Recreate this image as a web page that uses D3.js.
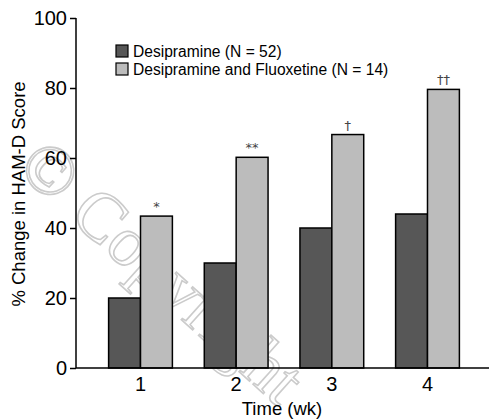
<!DOCTYPE html>
<html>
<head>
<meta charset="utf-8">
<script src="https://cdn.jsdelivr.net/npm/d3@7"></script>
<style>
  body { margin: 0; background: #fff; }
  svg text { font-family: "Liberation Sans", Arial, sans-serif; }
</style>
</head>
<body>
<div id="output"></div>
<script>
var weeks = ["1", "2", "3", "4"];
var seriesNames = ["Desipramine (N = 52)", "Desipramine and Fluoxetine (N = 14)"];
var desipramine = [20, 30, 40, 44];
var combined = [43.4, 60.2, 66.7, 79.6];
var marks = ["*", "**", "\u2020", "\u2020\u2020"];
var yTicks = [0, 20, 40, 60, 80, 100];

var w = 489, h = 419;
var colors = ["#575757", "#bcbcbc"];

var svg = d3.select("#output").append("svg")
    .attr("width", w)
    .attr("height", h);

// watermark
svg.append("text")
    .attr("transform", "translate(15,170) rotate(42)")
    .attr("font-size", 70)
    .attr("fill", "none")
    .attr("stroke", "#cbcbcb")
    .attr("stroke-width", 1.6)
    .style("font-family", "'Liberation Serif', serif")
    .text("\u00a9 Copyright");

var x = d3.scaleBand()
    .domain(weeks)
    .range([78, 490])
    .paddingInner(1 / 3)
    .paddingOuter(0.32);

var x1 = d3.scaleBand()
    .domain([0, 1])
    .range([0, x.bandwidth()]);

var y = d3.scaleLinear()
    .domain([0, 100])
    .range([368, 18]);

var groups = svg.selectAll(".group")
    .data(weeks)
    .enter()
    .append("g")
    .attr("class", "group")
    .attr("transform", function (d) { return "translate(" + x(d) + ",0)"; });

groups.selectAll("rect")
    .data(function (d, i) { return [desipramine[i], combined[i]]; })
    .enter()
    .append("rect")
    .attr("x", function (d, j) { return x1(j); })
    .attr("width", x1.bandwidth())
    .attr("y", function (d) { return y(d); })
    .attr("height", function (d) { return y(0) - y(d); })
    .attr("fill", function (d, j) { return colors[j]; })
    .attr("stroke", "#000")
    .attr("stroke-width", 1.5);

groups.append("text")
    .attr("x", function (d, i) { return x1(1) + x1.bandwidth() / 2; })
    .attr("y", function (d, i) { return y(combined[i]) - 5; })
    .attr("text-anchor", "middle")
    .attr("font-size", 13)
    .attr("fill", "#444")
    .style("font-family", "'DejaVu Sans', sans-serif")
    .text(function (d, i) { return marks[i]; });

// y axis
var yAxis = d3.axisLeft(y)
    .tickValues(yTicks)
    .tickSize(6)
    .tickPadding(3);

var gy = svg.append("g")
    .attr("transform", "translate(76,0)")
    .call(yAxis);
gy.selectAll("path, line").attr("stroke", "#000").attr("stroke-width", 1.5);
gy.select(".domain").attr("d", "M0," + y(100) + "V" + y(0));
gy.selectAll("text").attr("font-size", 20).attr("fill", "#000");

// x axis
var xAxis = d3.axisBottom(x)
    .tickSize(0)
    .tickPadding(9);

var gx = svg.append("g")
    .attr("transform", "translate(0," + y(0) + ")")
    .call(xAxis);
gx.select(".domain").attr("d", "M76,0H489").attr("stroke", "#000").attr("stroke-width", 1.5);
gx.selectAll("text").attr("font-size", 20).attr("fill", "#000");

svg.append("text")
    .attr("x", 282)
    .attr("y", 415)
    .attr("text-anchor", "middle")
    .attr("font-size", 18.5)
    .text("Time (wk)");

svg.append("text")
    .attr("transform", "translate(25,194) rotate(-90)")
    .attr("text-anchor", "middle")
    .attr("font-size", 18.5)
    .text("% Change in HAM-D Score");

// legend
var legend = svg.selectAll(".legend")
    .data(seriesNames)
    .enter()
    .append("g")
    .attr("class", "legend")
    .attr("transform", function (d, i) { return "translate(116," + (45 + i * 18) + ")"; });

legend.append("rect")
    .attr("width", 12)
    .attr("height", 12)
    .attr("fill", function (d, i) { return colors[i]; })
    .attr("stroke", "#000")
    .attr("stroke-width", 1.2);

legend.append("text")
    .attr("x", 17)
    .attr("y", 11.5)
    .attr("font-size", 15.6)
    .text(function (d) { return d; });
</script>
</body>
</html>
